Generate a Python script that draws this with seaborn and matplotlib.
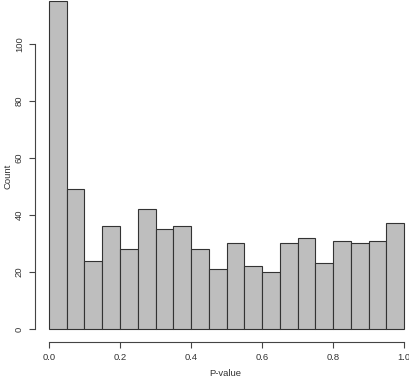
import numpy as np
import matplotlib
matplotlib.use("Agg")
import matplotlib.pyplot as plt
import seaborn as sns

# bin counts (20 bins of width 0.05 on [0, 1])
bin_lo = [0.00, 0.05, 0.10, 0.15, 0.20, 0.25, 0.30, 0.35, 0.40, 0.45,
          0.50, 0.55, 0.60, 0.65, 0.70, 0.75, 0.80, 0.85, 0.90, 0.95]
counts = [115, 49, 24, 36, 28, 42, 35, 36, 28, 21,
          30, 22, 20, 30, 32, 23, 31, 30, 31, 37]
x_ticks = [0.0, 0.2, 0.4, 0.6, 0.8, 1.0]
y_ticks = [0, 20, 40, 60, 80, 100]

sns.set_style("white")
plt.rcParams['font.family'] = ['Liberation Sans', 'DejaVu Sans']

W, H = 409, 378
fig = plt.figure(figsize=(W / 100, H / 100), dpi=100)
ax = fig.add_axes([35 / W, 36 / H, 374 / W, 342 / H])

width = 0.05
centers = [b + width / 2 for b in bin_lo]
edges = bin_lo + [bin_lo[-1] + width]
sns.histplot(x=centers, weights=counts, bins=edges, ax=ax,
             color="#bebebe", alpha=1, edgecolor="#333333", linewidth=0.8)

ax.set_xlim(-0.0394, 1.014)
ax.set_ylim(-4.55, 115.3)

for s in ["top", "right"]:
    ax.spines[s].set_visible(False)
for s in ["left", "bottom"]:
    ax.spines[s].set_color("#444444")
    ax.spines[s].set_linewidth(0.8)
ax.spines["bottom"].set_bounds(0, 1)
ax.spines["left"].set_bounds(0, 100)

ax.set_xticks(x_ticks)
ax.set_xticklabels([f"{v:.1f}" for v in x_ticks])
ax.set_yticks(y_ticks)
ax.set_yticklabels([str(v) for v in y_ticks], rotation=90, va="center")
ax.tick_params(axis="both", direction="out", length=4, width=0.8,
               color="#444444", labelsize=6.8, labelcolor="#333333",
               bottom=True, left=True, pad=4)

# R-style axis titles placed in the outer margin
ax.set_xlabel("P-value", fontsize=6.8, color="#333333", va="center")
ax.set_ylabel("Count", fontsize=6.8, color="#333333", va="center")
ax.xaxis.set_label_coords(0.51, -32 / 342)
ax.yaxis.set_label_coords(-27 / 374, 0.5 - 5 / 342)

fig.savefig("out.png", dpi=100)
